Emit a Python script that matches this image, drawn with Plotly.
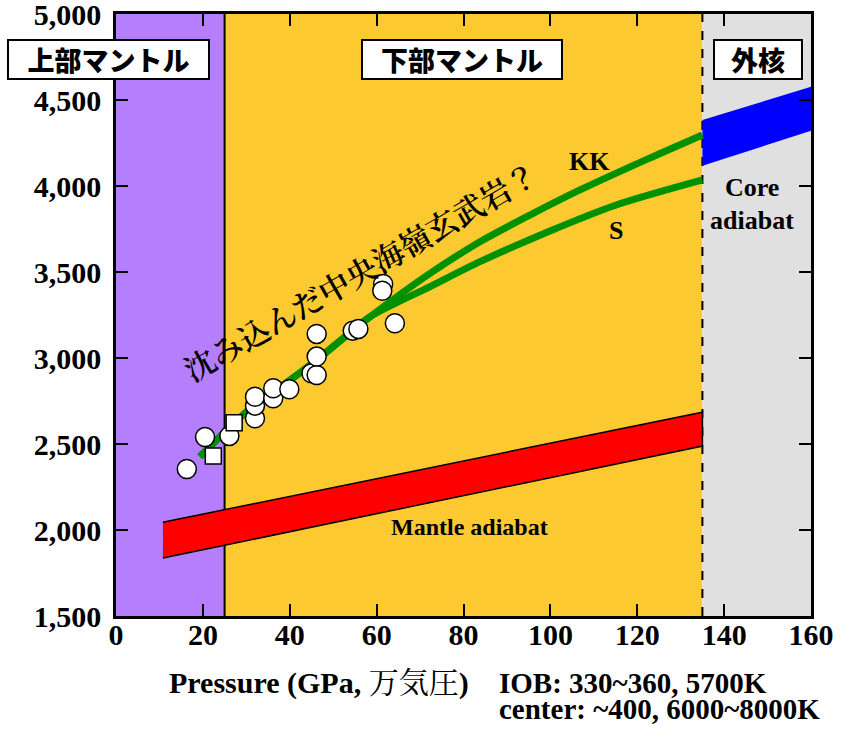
import plotly.graph_objects as go

# Regions (GPa)
region_edges = [0, 25, 135, 160]
region_colors = ["#B57EFC", "#FCC930", "#E0E0E0"]
region_labels = ["上部マントル", "下部マントル", "外核"]
region_label_px = [108.5, 462, 758]   # box centres, figure pixels
region_label_w = [197, 196, 84]

# Experimental data (circles)
circ_p = [16.3, 20.5, 26.1, 32.0, 32.0, 32.0, 36.2, 36.2, 39.9, 45.0, 46.2, 46.2, 46.2, 54.5, 55.8, 64.2, 61.5, 61.3]
circ_t = [2355, 2541, 2547, 2649, 2723, 2775, 2766, 2824, 2818, 2911, 2901, 3008, 3140, 3159, 3169, 3202, 3430, 3391]
# squares
sq_p = [22.4, 27.2]
sq_t = [2430, 2624]

# Solidus curves
common_p = [19.3, 27.2, 32.4, 40.1, 46.2, 52.3, 58.5]
common_t = [2426, 2622, 2737, 2872, 2988, 3115, 3240]
kk_p = common_p + [72.3, 83.8, 95.3, 106.8, 122.2, 135]
kk_t = common_t + [3492, 3676, 3831, 3977, 4155, 4297]
s_p = common_p + [72.3, 83.8, 99.1, 114.5, 135]
s_t = common_t + [3415, 3560, 3730, 3884, 4035]

# Mantle adiabat band
mantle_p = [10.8, 135, 135, 10.8]
mantle_t = [2045, 2685, 2488, 1837]
# Core adiabat band
core_p = [135, 160, 160, 135]
core_t = [4384, 4577, 4321, 4118]

x_ticks = [0, 20, 40, 60, 80, 100, 120, 140, 160]
y_ticks = [1500, 2000, 2500, 3000, 3500, 4000, 4500, 5000]

SERIF = "Liberation Serif"
JP = "Noto Sans CJK JP"
JPSERIF = "Noto Serif CJK JP"

W, H = 842, 731
ML, MR, MT, MB = 116, 31, 14, 115
PW, PH = W - ML - MR, H - MT - MB


def px_to_paper(px, py):
    return (px - ML) / PW, (H - MB - py) / PH


fig = go.Figure()

fig.add_trace(go.Scatter(x=mantle_p, y=mantle_t, fill="toself", fillcolor="#FF0000",
                         mode="lines", line=dict(color="black", width=1.5), hoverinfo="skip"))
fig.add_trace(go.Scatter(x=core_p, y=core_t, fill="toself", fillcolor="#0000FF",
                         mode="lines", line=dict(color="#0000FF", width=0), hoverinfo="skip"))
fig.add_trace(go.Scatter(x=kk_p, y=kk_t, mode="lines",
                         line=dict(color="#009100", width=7, shape="spline", smoothing=0.8)))
fig.add_trace(go.Scatter(x=s_p, y=s_t, mode="lines",
                         line=dict(color="#009100", width=7, shape="spline", smoothing=0.8)))
fig.add_trace(go.Scatter(x=circ_p, y=circ_t, mode="markers",
                         marker=dict(symbol="circle", size=19, color="white", line=dict(color="black", width=1.5))))
fig.add_trace(go.Scatter(x=sq_p, y=sq_t, mode="markers",
                         marker=dict(symbol="square", size=16, color="white", line=dict(color="black", width=1.5))))

shapes = []
for i, c in enumerate(region_colors):
    shapes.append(dict(type="rect", xref="x", yref="y", x0=region_edges[i], x1=region_edges[i + 1],
                       y0=1500, y1=5000, fillcolor=c, line=dict(width=0), layer="below"))
shapes.append(dict(type="line", xref="x", yref="y", x0=region_edges[1], x1=region_edges[1], y0=1500, y1=5000,
                   line=dict(color="black", width=2), layer="below"))
shapes.append(dict(type="line", xref="x", yref="y", x0=region_edges[2], x1=region_edges[2], y0=1500, y1=5000,
                   line=dict(color="black", width=2, dash="dash"), layer="below"))

annotations = []
for lab, pxc, w in zip(region_labels, region_label_px, region_label_w):
    ax_, ay_ = px_to_paper(pxc, 60)
    annotations.append(dict(x=ax_, y=ay_, xref="paper", yref="paper", text=lab, showarrow=False,
                            font=dict(family=JP, size=27, color="black", weight=900),
                            bgcolor="white", bordercolor="black", borderwidth=2, borderpad=1,
                            width=w, height=35, xanchor="center", yanchor="middle"))

tx, ty = px_to_paper(319, 680)
i1x, i1y = px_to_paper(497, 683)
i2x, i2y = px_to_paper(497, 709)

annotations += [
    dict(x=56.2, y=3506, xref="x", yref="y", text="沈み込んだ中央海嶺玄武岩？", textangle=-30,
         showarrow=False, font=dict(family=JPSERIF, size=31, color="black", weight=600)),
    dict(x=108.9, y=4141, xref="x", yref="y", text="<b>KK</b>", showarrow=False,
         font=dict(family=SERIF, size=26, color="black")),
    dict(x=115.2, y=3744, xref="x", yref="y", text="<b>S</b>", showarrow=False,
         font=dict(family=SERIF, size=26, color="black")),
    dict(x=146.5, y=3994, xref="x", yref="y", text="<b>Core</b>", showarrow=False,
         font=dict(family=SERIF, size=26, color="black")),
    dict(x=146.5, y=3802, xref="x", yref="y", text="<b>adiabat</b>", showarrow=False,
         font=dict(family=SERIF, size=26, color="black")),
    dict(x=81.3, y=2017, xref="x", yref="y", text="<b>Mantle adiabat</b>", showarrow=False,
         font=dict(family=SERIF, size=24, color="black")),
    dict(x=tx, y=ty, xref="paper", yref="paper",
         text="<b>Pressure (GPa, </b><span style='font-family:\"Noto Serif CJK JP\"'>万気圧</span><b>)</b>",
         showarrow=False, xanchor="center", yanchor="middle",
         font=dict(family=SERIF + ", " + JPSERIF, size=30, color="black")),
    dict(x=i1x, y=i1y, xref="paper", yref="paper", text="<b>IOB: 330~360, 5700K</b>",
         showarrow=False, xanchor="left", yanchor="middle",
         font=dict(family=SERIF, size=29, color="black")),
    dict(x=i2x, y=i2y, xref="paper", yref="paper", text="<b>center: ~400, 6000~8000K</b>",
         showarrow=False, xanchor="left", yanchor="middle",
         font=dict(family=SERIF, size=29, color="black")),
]

axis_common = dict(showgrid=False, zeroline=False, showline=True, linecolor="black", linewidth=2.5,
                   mirror="ticks", ticks="inside", ticklen=12, tickwidth=2, tickcolor="black",
                   automargin=False, ticklabeloverflow="allow",
                   tickfont=dict(family=SERIF, size=30, color="black", weight="bold"))

fig.update_layout(
    width=W, height=H,
    margin=dict(l=ML, r=MR, t=MT, b=MB, autoexpand=False),
    paper_bgcolor="white", plot_bgcolor="white",
    showlegend=False,
    shapes=shapes, annotations=annotations,
    xaxis=dict(range=[0, 160], tickvals=x_ticks, ticklabelstandoff=-10, **axis_common),
    yaxis=dict(range=[1500, 5000], tickvals=y_ticks, tickformat=",d", ticklabelstandoff=6, **axis_common),
)

fig.write_html("out.html", config={"displayModeBar": False},
               post_script="document.body.style.margin='0';")
